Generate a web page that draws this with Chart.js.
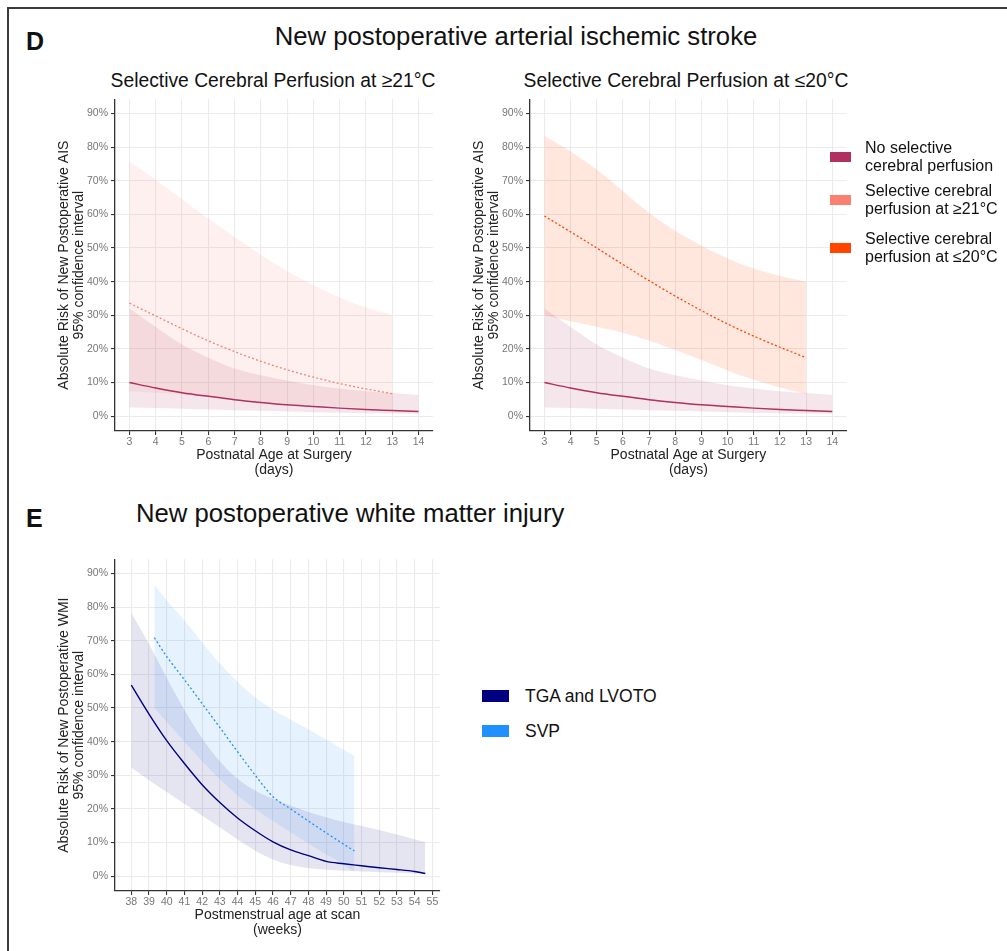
<!DOCTYPE html>
<html><head><meta charset="utf-8">
<script src="https://cdn.jsdelivr.net/npm/chart.js@4.4.1/dist/chart.umd.min.js"></script>
<style>
html,body{margin:0;padding:0;background:#fff;}
body{width:1007px;height:951px;position:relative;overflow:hidden;font-family:"Liberation Sans",Arial,Helvetica,sans-serif;color:#111;}
.t{position:absolute;white-space:nowrap;line-height:1;}
.c{transform:translate(-50%,-50%);}
.l{transform:translateY(-50%);}
canvas{position:absolute;}
.frame{position:absolute;left:7px;top:7px;width:1100px;height:1000px;border-top:2px solid #3a3a3a;border-left:2px solid #3a3a3a;}
.key{position:absolute;}
.lt{position:absolute;white-space:nowrap;color:#111;}
</style></head>
<body>
<div class="frame"></div>
<div class="t l" style="left:26px;top:41px;font-size:25px;font-weight:bold">D</div>
<div class="t c" style="left:516px;top:37px;font-size:25.7px">New postoperative arterial ischemic stroke</div>
<div class="t c" style="left:273px;top:80.5px;font-size:19.3px">Selective Cerebral Perfusion at ≥21°C</div>
<div class="t c" style="left:686px;top:80.5px;font-size:19.3px">Selective Cerebral Perfusion at ≤20°C</div>
<div class="t l" style="left:26px;top:518px;font-size:25px;font-weight:bold">E</div>
<div class="t l" style="left:136px;top:514px;font-size:25.7px">New postoperative white matter injury</div>
<canvas id="cD1" width="425" height="395" style="left:20px;top:90px"></canvas>
<canvas id="cD2" width="425" height="395" style="left:435px;top:90px"></canvas>
<canvas id="cE" width="430" height="395" style="left:20px;top:550px"></canvas>
<div id="legD"></div>
<div id="legE"></div>
<script>
// ---- data ----
const dayTicks = [3, 4, 5, 6, 7, 8, 9, 10, 11, 12, 13, 14];
const weekTicks = [38, 39, 40, 41, 42, 43, 44, 45, 46, 47, 48, 49, 50, 51, 52, 53, 54, 55];
const pctTicks = [0, 10, 20, 30, 40, 50, 60, 70, 80, 90];

const noScpDays = [3, 4, 5, 6, 7, 8, 9, 10, 11, 12, 13, 14];
const noScpRisk = [10.0, 8.4, 7.0, 5.9, 4.9, 4.1, 3.4, 2.9, 2.4, 2.0, 1.7, 1.4];
const noScpUpper = [32.0, 26.5, 21.3, 17.4, 14.2, 12.2, 10.6, 9.2, 8.2, 7.4, 6.9, 6.3];
const noScpLower = [2.6, 2.4, 2.2, 2.0, 1.8, 1.6, 1.4, 1.2, 1.0, 0.9, 0.8, 0.7];

const scpDays = [3, 4, 5, 6, 7, 8, 9, 10, 11, 12, 13];
const scp21Risk = [33.6, 29.8, 26.0, 22.4, 19.2, 16.3, 13.8, 11.6, 9.7, 8.1, 6.7];
const scp21Upper = [75.7, 70.3, 64.5, 58.8, 53.3, 48.0, 43.1, 38.9, 35.3, 32.3, 30.0];
const scp21Lower = [7.4, 7.0, 6.5, 5.8, 5.1, 4.4, 3.8, 3.3, 2.8, 2.4, 2.0];
const scp20Risk = [59.5, 54.8, 50.0, 45.1, 40.3, 35.7, 31.4, 27.4, 23.8, 20.5, 17.4];
const scp20Upper = [83.4, 78.7, 73.3, 66.9, 60.5, 55.1, 50.7, 46.9, 43.9, 41.7, 40.0];
const scp20Lower = [30.0, 28.2, 26.6, 24.8, 22.4, 19.7, 16.7, 13.6, 10.8, 8.5, 6.6];

const tgaWeeks = [38, 39, 40, 41, 42, 43, 44, 45, 46, 47, 48, 49, 50, 51, 52, 53, 54, 54.6];
const tgaRisk = [56.8, 48.2, 40.3, 33.5, 27.2, 21.9, 17.3, 13.5, 10.2, 7.8, 6.1, 4.4, 3.7, 3.1, 2.5, 2.0, 1.4, 0.8];
const tgaUpper = [78.3, 69.0, 59.0, 49.5, 41.0, 34.2, 29.0, 25.5, 23.0, 21.0, 19.1, 17.5, 16.1, 14.9, 13.7, 12.4, 11.0, 10.1];
const tgaLower = [32.3, 28.5, 25.0, 21.5, 18.0, 14.5, 10.9, 7.6, 5.0, 3.3, 2.4, 1.9, 1.6, 1.4, 1.2, 1.0, 0.8, 0.7];

const svpWeeks = [39.3, 40, 41, 42, 43, 44, 45, 46, 47, 48, 49, 50, 50.6];
const svpRisk = [70.9, 65.3, 58.4, 51.3, 44.2, 37.0, 30.0, 23.6, 20.0, 16.4, 12.9, 9.5, 7.5];
const svpUpper = [86.6, 82.0, 76.0, 69.5, 63.2, 57.8, 53.1, 49.5, 46.5, 43.7, 40.6, 37.5, 35.7];
const svpLower = [50.0, 45.8, 40.0, 34.2, 28.8, 24.0, 20.0, 16.4, 13.0, 9.7, 6.5, 3.4, 1.2];

const legendDLabels = [["No selective", "cerebral perfusion"], ["Selective cerebral", "perfusion at ≥21°C"], ["Selective cerebral", "perfusion at ≤20°C"]];
const legendELabels = ["TGA and LVOTO", "SVP"];

// ---- styles ----
const FAMILY = '"Liberation Sans", Arial, Helvetica, sans-serif';
const COL = {
  noScp: '#B03060', noScpBand: 'rgba(176,48,96,0.12)',
  scp21: '#FA8072', scp21Band: 'rgba(250,128,114,0.12)',
  scp20: '#FF4500', scp20Band: 'rgba(255,69,0,0.13)',
  tga: '#000080', tgaBand: 'rgba(0,0,128,0.10)',
  svp: '#1E90FF', svpBand: 'rgba(30,144,255,0.11)'
};
const legendDColors = [COL.noScp, COL.scp21, COL.scp20];
const legendEColors = [COL.tga, COL.svp];

const pts = (xs, ys) => xs.map((x, i) => ({x: x, y: ys[i]}));
function band(xs, up, lo, color) {
  return [
    {data: pts(xs, up), fill: '+1', backgroundColor: color, borderColor: 'rgba(0,0,0,0)', borderWidth: 0, pointRadius: 0, order: 2, cubicInterpolationMode: 'monotone'},
    {data: pts(xs, lo), fill: false, backgroundColor: 'rgba(0,0,0,0)', borderColor: 'rgba(0,0,0,0)', borderWidth: 0, pointRadius: 0, order: 2, cubicInterpolationMode: 'monotone'}
  ];
}
function line(xs, ys, color, dash, w) {
  return {data: pts(xs, ys), borderColor: color, borderWidth: w, borderDash: dash, pointRadius: 0, fill: false, order: 0, cubicInterpolationMode: 'monotone', borderCapStyle: 'butt'};
}

function makeChart(id, datasets, xMin, xMax, xTicks, xTitle, yTitle, padTop, padRight) {
  return new Chart(document.getElementById(id), {
    type: 'line',
    data: {datasets: datasets},
    options: {
      responsive: false, animation: false, devicePixelRatio: 1,
      layout: {padding: {top: padTop, right: padRight, left: 0, bottom: 0}},
      plugins: {legend: {display: false}, tooltip: {enabled: false}},
      scales: {
        x: {
          type: 'linear', min: xMin, max: xMax,
          afterBuildTicks: s => { s.ticks = xTicks.map(v => ({value: v})); },
          afterFit: s => { s.height = 54; },
          grid: {color: '#ebebeb', lineWidth: 1.1, tickColor: '#333', tickLength: 4, drawTicks: true},
          border: {color: '#333', width: 1.3},
          ticks: {color: '#777', font: {size: 10.5, family: FAMILY}, padding: 1, maxRotation: 0, autoSkip: false},
          title: {display: true, text: xTitle, color: '#222', font: {size: 14, family: FAMILY, lineHeight: '15px'}, padding: {top: 0, bottom: 7}}
        },
        y: {
          type: 'linear', min: -4.4, max: 94.2,
          afterBuildTicks: s => { s.ticks = pctTicks.map(v => ({value: v})); },
          afterFit: s => { s.width = 95; },
          grid: {color: '#ebebeb', lineWidth: 1.1, tickColor: '#333', tickLength: 4, drawTicks: true},
          border: {color: '#333', width: 1.3},
          ticks: {color: '#777', font: {size: 10.5, family: FAMILY}, padding: 3, callback: v => v + '%'},
          title: {display: true, text: yTitle, color: '#222', font: {size: 14, family: FAMILY, lineHeight: '15px'}, padding: {top: 36.5, bottom: 0}}
        }
      }
    }
  });
}

const dsD1 = [
  ...band(noScpDays, noScpUpper, noScpLower, COL.noScpBand),
  ...band(scpDays, scp21Upper, scp21Lower, COL.scp21Band),
  line(noScpDays, noScpRisk, COL.noScp, [], 1.5),
  line(scpDays, scp21Risk, COL.scp21, [2, 2.2], 1.3)
];
const dsD2 = [
  ...band(noScpDays, noScpUpper, noScpLower, COL.noScpBand),
  ...band(scpDays, scp20Upper, scp20Lower, COL.scp20Band),
  line(noScpDays, noScpRisk, COL.noScp, [], 1.5),
  line(scpDays, scp20Risk, COL.scp20, [2, 2.2], 1.3)
];
const dsE = [
  ...band(tgaWeeks, tgaUpper, tgaLower, COL.tgaBand),
  ...band(svpWeeks, svpUpper, svpLower, COL.svpBand),
  line(tgaWeeks, tgaRisk, COL.tga, [], 1.4),
  line(svpWeeks, svpRisk, COL.svp, [2, 2.4], 1.3)
];

const aisTitle = ['Absolute Risk of New Postoperative AIS', '95% confidence interval'];
const daysTitle = ['Postnatal Age at Surgery', '(days)'];
makeChart('cD1', dsD1, 2.45, 14.55, dayTicks, daysTitle, aisTitle, 7, 12);
makeChart('cD2', dsD2, 2.45, 14.55, dayTicks, daysTitle, aisTitle, 7, 13.3);
makeChart('cE', dsE, 37.08, 55.43, weekTicks, ['Postmenstrual age at scan', '(weeks)'], ['Absolute Risk of New Postoperative WMI', '95% confidence interval'], 6.7, 10);

// ---- legends ----
function addKey(parent, x, y, w, h, color) {
  const d = document.createElement('div');
  d.className = 'key';
  d.style.cssText = `left:${x}px;top:${y}px;width:${w}px;height:${h}px;background:${color};`;
  parent.appendChild(d);
}
function addText(parent, x, y, size, lh, lines) {
  const d = document.createElement('div');
  d.className = 'lt';
  d.style.cssText = `left:${x}px;top:${y}px;font-size:${size}px;line-height:${lh}px;`;
  d.innerHTML = lines.join('<br>');
  parent.appendChild(d);
}
const legD = document.getElementById('legD');
const legDKeyY = [151.7, 195, 242.7];
legendDLabels.forEach((lab, i) => {
  addKey(legD, 830, legDKeyY[i], 21, 10, legendDColors[i]);
  addText(legD, 865, legDKeyY[i] + 5 - 18, 16, 18, lab);
});
const legE = document.getElementById('legE');
const legEKeyY = [690, 725];
legendELabels.forEach((lab, i) => {
  addKey(legE, 482, legEKeyY[i], 27, 11.7, legendEColors[i]);
  addText(legE, 525, legEKeyY[i] + 5.8 - 10, 17.5, 20, [lab]);
});
</script>
</body></html>
